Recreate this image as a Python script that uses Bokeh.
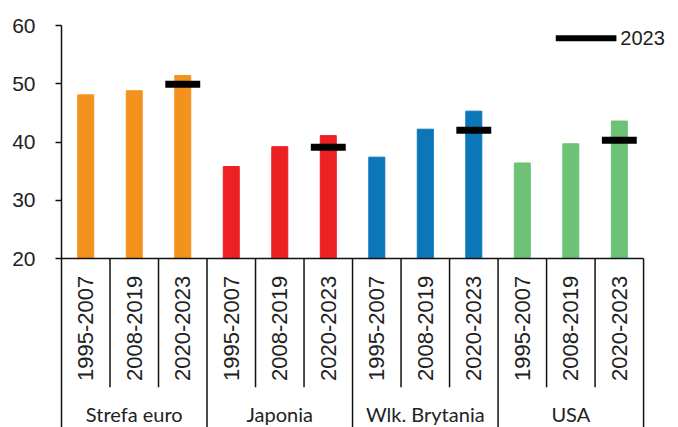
import numpy as np
from bokeh.plotting import figure
from bokeh.models import Range1d, FixedTicker, ColumnDataSource
from bokeh.core.properties import value
from bokeh.embed import file_html
from bokeh.resources import INLINE

# ---- data ----
groups = ["Strefa euro", "Japonia", "Wlk. Brytania", "USA"]
periods = ["1995-2007", "2008-2019", "2020-2023"]
values_euro = [48.1, 48.8, 51.4]
values_japan = [35.8, 39.2, 41.1]
values_uk = [37.4, 42.2, 45.3]
values_usa = [36.4, 39.7, 43.6]
values_2023 = [49.9, 39.1, 42.0, 40.3]
colors = ["#F3921E", "#ED2024", "#0B76B8", "#6DC276"]
y_ticks = [20, 30, 40, 50, 60]
legend_label = "2023"

series = [values_euro, values_japan, values_uk, values_usa]
n_per = len(periods)
n_slots = len(groups) * n_per

# ---- build sources ----
xs, tops, cols, labs = [], [], [], []
for g, vals in enumerate(series):
    for j, v in enumerate(vals):
        xs.append(g * n_per + j + 0.5)
        tops.append(v)
        cols.append(colors[g])
        labs.append(periods[j])
bars = ColumnDataSource(dict(x=xs, top=tops, color=cols, label=labs))

base = y_ticks[0]
p = figure(width=678, height=427, output_backend="svg", toolbar_location=None,
           x_range=Range1d(0, 12.72), y_range=Range1d(-9, 60),
           min_border_left=61, min_border_right=0, min_border_top=25, min_border_bottom=0)
p.xaxis.visible = False
p.grid.visible = False
p.outline_line_color = None
p.background_fill_color = "white"
p.border_fill_color = "white"

ax = p.yaxis[0]
ax.ticker = FixedTicker(ticks=y_ticks)
ax.minor_tick_line_color = None
ax.major_tick_in = 0
ax.major_tick_out = 6
ax.axis_line_color = "#111111"
ax.axis_line_width = 1.5
ax.major_tick_line_color = "#111111"
ax.major_tick_line_width = 1.5
ax.major_label_text_font = "Liberation Sans"
ax.major_label_text_font_size = "21px"
ax.major_label_text_color = "#222222"
ax.major_label_standoff = 20

# bars
p.vbar(x="x", top="top", bottom=base, width=0.33, color="color", source=bars)

# 2023 markers on last period of each group
mx = [g * n_per + (n_per - 1) + 0.5 for g in range(len(groups))]
p.segment(x0=[x - 0.36 for x in mx], x1=[x + 0.36 for x in mx],
          y0=values_2023, y1=values_2023, line_color="black", line_width=7, line_cap="butt")

# legend
p.segment(x0=[10.19], x1=[11.44], y0=[57.8], y1=[57.8], line_color="black", line_width=6, line_cap="butt")
p.text(x=[11.52], y=[57.8], text=[legend_label], text_font=value("Liberation Sans"),
       text_font_size=value("20px"), text_color="#222222", text_baseline="middle", text_align="left")

# category axis structure
p.segment(x0=[0], x1=[n_slots], y0=[base], y1=[base], line_color="#111111", line_width=1.5)
inner = [g * n_per + j for g in range(len(groups)) for j in range(1, n_per)]
p.segment(x0=inner, x1=inner, y0=[base] * len(inner), y1=[-2.1] * len(inner),
          line_color="#111111", line_width=1.5)
outer = [(g + 1) * n_per for g in range(len(groups))]
p.segment(x0=outer, x1=outer, y0=[base] * len(outer), y1=[-9] * len(outer),
          line_color="#111111", line_width=1.5)

# period labels (rotated)
p.text(x="x", y=8.0, text="label", source=bars, angle=np.pi / 2,
       text_font=value("Liberation Sans"), text_font_size=value("22px"), text_color="#222222",
       text_align="center", text_baseline="middle")

# group labels
gx = [g * n_per + n_per / 2 for g in range(len(groups))]
p.text(x=gx, y=[-6.6] * len(groups), text=groups, text_font=value("Lato"),
       text_font_size=value("20px"), text_color="#222222", text_align="center", text_baseline="middle")

open("out.html", "w").write(file_html(p, INLINE))
